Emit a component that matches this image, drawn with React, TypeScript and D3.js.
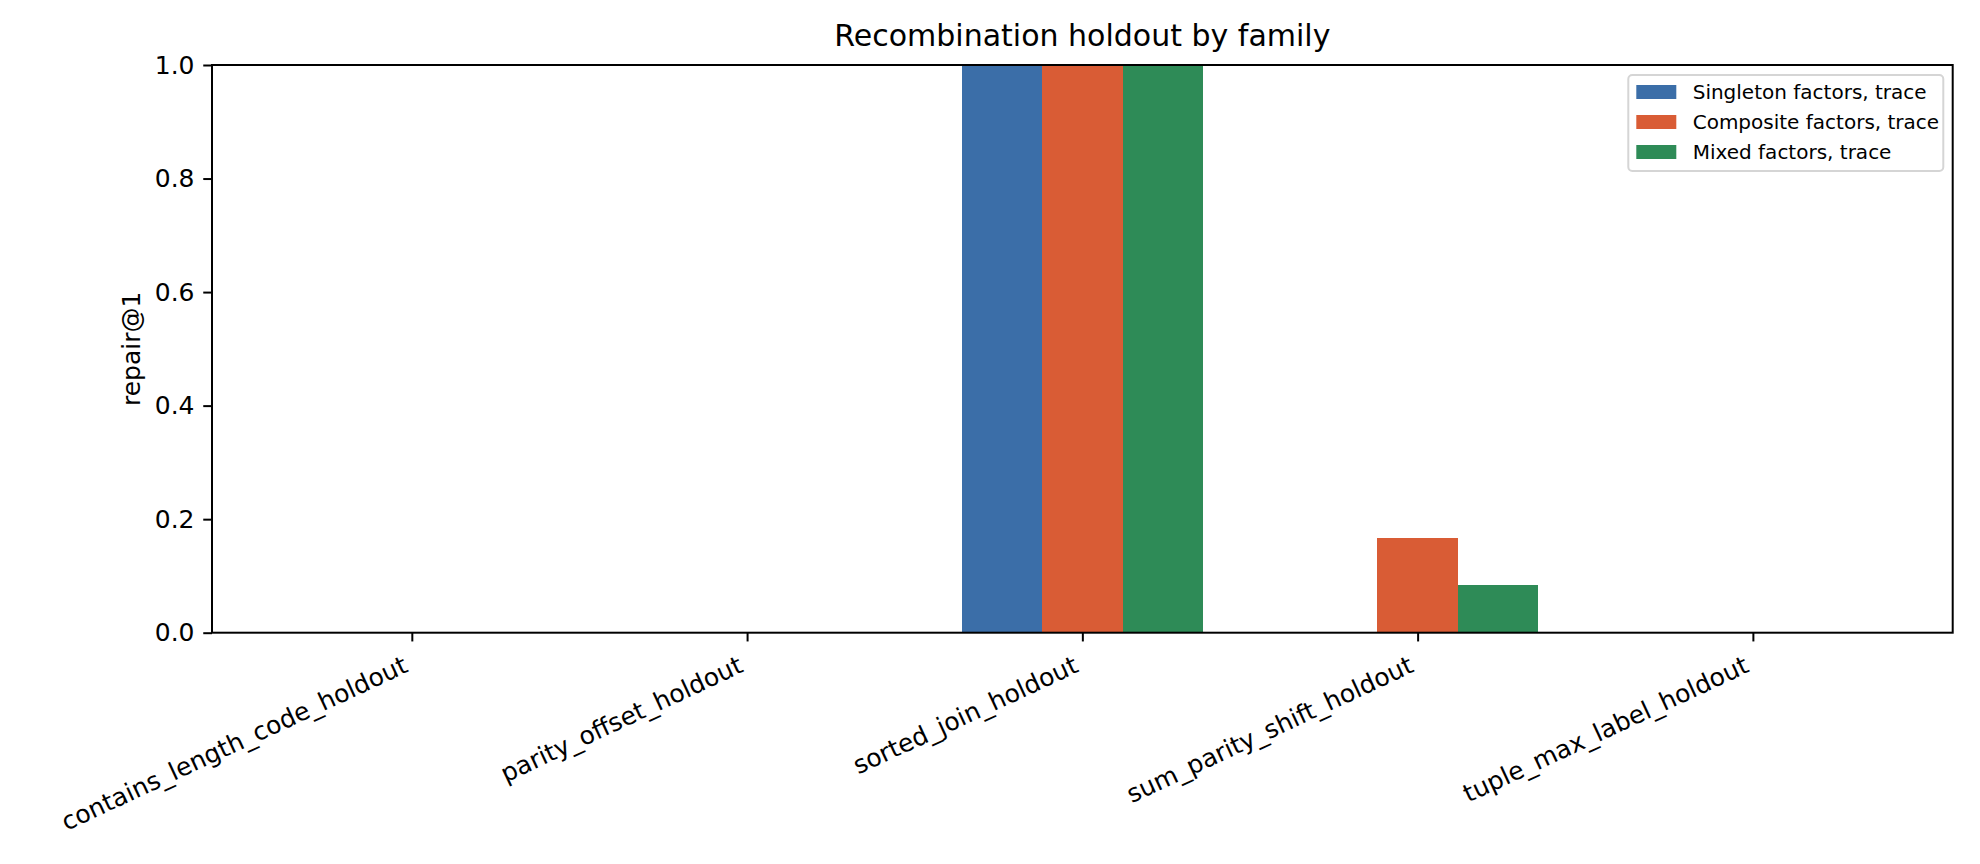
import * as d3 from 'd3'
import { useEffect, useRef } from 'react'

const families = [
  'contains_length_code_holdout',
  'parity_offset_holdout',
  'sorted_join_holdout',
  'sum_parity_shift_holdout',
  'tuple_max_label_holdout',
]

const seriesNames = [
  'Singleton factors, trace',
  'Composite factors, trace',
  'Mixed factors, trace',
]
const seriesColors = ['#3b6ea8', '#d95c35', '#2e8b57']

const singletonValues = [0, 0, 1, 0, 0]
const compositeValues = [0, 0, 1, 0.1667, 0]
const mixedValues = [0, 0, 1, 0.0833, 0]
const seriesValues = [singletonValues, compositeValues, mixedValues]

const yTicks = [0, 0.2, 0.4, 0.6, 0.8, 1.0]

const width = 1980
const height = 864
const marginTop = 65
const marginRight = 27.3
const marginBottom = 231.3
const marginLeft = 212
const barWidth = 0.24
const font = 'DejaVu Sans, sans-serif'
const rot = 25

export default function App() {
  // x axis: bar centres at i + offset, 5% padding like matplotlib
  const lo = -barWidth * 1.5
  const hi = families.length - 1 + barWidth * 1.5
  const pad = (hi - lo) * 0.05
  const x = d3.scaleLinear([lo - pad, hi + pad], [marginLeft, width - marginRight])
  const y = d3.scaleLinear([0, 1], [height - marginBottom, marginTop])

  const gy = useRef<SVGGElement>(null)
  const gx = useRef<SVGGElement>(null)

  useEffect(() => {
    const yAxis = d3
      .axisLeft(y)
      .tickValues(yTicks)
      .tickFormat(d3.format('.1f'))
      .tickSize(8.75)
      .tickPadding(8.75)
      .tickSizeOuter(0)
    const g = d3.select(gy.current).call(yAxis)
    g.select('.domain').remove()
    g.selectAll('line').attr('stroke', '#000').attr('stroke-width', 2)
    g.selectAll('text').attr('font-size', 25).attr('font-family', font).attr('fill', '#000')

    const xAxis = d3
      .axisBottom(x)
      .tickValues(families.map((_, i) => i))
      .tickFormat(() => '')
      .tickSize(8.75)
      .tickSizeOuter(0)
    const gb = d3.select(gx.current).call(xAxis)
    gb.select('.domain').remove()
    gb.selectAll('line').attr('stroke', '#000').attr('stroke-width', 2)
  }, [])

  const fs = 25
  const sin = Math.sin((rot * Math.PI) / 180)
  const cos = Math.cos((rot * Math.PI) / 180)
  const labelTop = height - marginBottom + 17.5

  const legX = 1628.3
  const legY = 75

  return (
    <svg
      width={width}
      height={height}
      style={{ position: 'absolute', left: 0, top: 0, background: '#fff' }}
    >
      <rect width={width} height={height} fill="#fff" />
      <g shapeRendering="crispEdges">
        {seriesValues.map((vals, s) =>
          vals.map((v, i) => (
            <rect
              key={`${s}-${i}`}
              x={x(i + (s - 1) * barWidth - barWidth / 2)}
              y={y(v)}
              width={x(barWidth) - x(0)}
              height={y(0) - y(v)}
              fill={seriesColors[s]}
            />
          ))
        )}
      </g>
      <rect
        x={marginLeft}
        y={marginTop}
        width={width - marginLeft - marginRight}
        height={height - marginTop - marginBottom}
        fill="none"
        stroke="#000"
        strokeWidth={2}
      />
      <g ref={gy} transform={`translate(${marginLeft},0)`} />
      <g ref={gx} transform={`translate(0,${height - marginBottom})`} />
      {families.map((f, i) => {
        const ax = x(i) - 0.236 * fs * sin
        const ay = labelTop + 0.928 * fs * cos
        return (
          <text
            key={f}
            x={ax}
            y={ay}
            textAnchor="end"
            fontSize={fs}
            fontFamily={font}
            transform={`rotate(${-rot},${ax},${ay})`}
          >
            {f}
          </text>
        )
      })}
      <text
        x={(marginLeft + width - marginRight) / 2}
        y={46}
        textAnchor="middle"
        fontSize={30}
        fontFamily={font}
      >
        Recombination holdout by family
      </text>
      <text
        transform={`translate(140,${(marginTop + height - marginBottom) / 2}) rotate(-90)`}
        textAnchor="middle"
        fontSize={25}
        fontFamily={font}
      >
        repair@1
      </text>
      <g>
        <rect
          x={legX}
          y={legY}
          width={315}
          height={96}
          rx={4}
          fill="#fff"
          fillOpacity={0.8}
          stroke="#d5d5d5"
          strokeWidth={2}
        />
        {seriesNames.map((n, s) => (
          <g key={n}>
            <rect x={legX + 8} y={legY + 10 + s * 30} width={40} height={14} fill={seriesColors[s]} />
            <text x={legX + 64.4} y={legY + 24 + s * 30} fontSize={20} fontFamily={font}>
              {n}
            </text>
          </g>
        ))}
      </g>
    </svg>
  )
}
